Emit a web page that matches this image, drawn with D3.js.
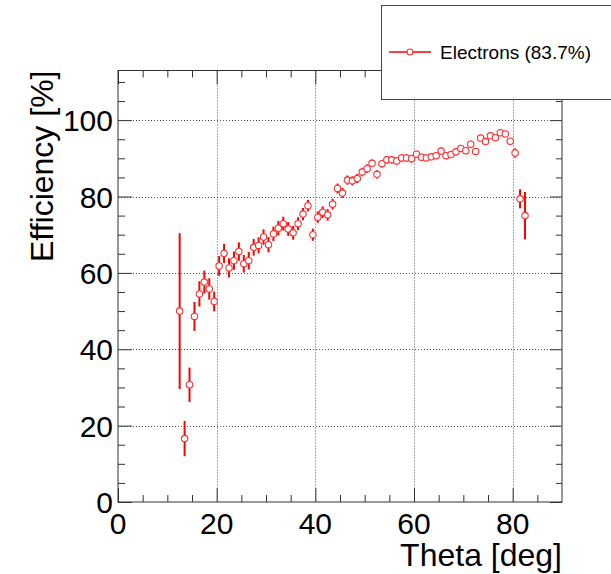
<!DOCTYPE html>
<html>
<head>
<meta charset="utf-8">
<script src="https://cdn.jsdelivr.net/npm/d3@7"></script>
<style>
  body { margin: 0; background: #fff; }
  svg { display: block; }
  text { font-family: "Liberation Sans", Arial, sans-serif; fill: #000; }
</style>
</head>
<body>
<svg id="chart" width="611" height="574"></svg>
<script>
// bin centres (deg)
const theta = [12.5, 13.5, 14.5, 15.5, 16.5, 17.5, 18.5, 19.5, 20.5, 21.5,
  22.5, 23.5, 24.5, 25.5, 26.5, 27.5, 28.5, 29.5, 30.5, 31.5,
  32.5, 33.5, 34.5, 35.5, 36.5, 37.5, 38.5, 39.5, 40.5, 41.5,
  42.5, 43.5, 44.5, 45.5, 46.5, 47.5, 48.5, 49.5, 50.5, 51.5,
  52.5, 53.5, 54.5, 55.5, 56.5, 57.5, 58.5, 59.5, 60.5, 61.5,
  62.5, 63.5, 64.5, 65.5, 66.5, 67.5, 68.5, 69.5, 70.5, 71.5,
  72.5, 73.5, 74.5, 75.5, 76.5, 77.5, 78.5, 79.5, 80.5, 81.5, 82.5];

const efficiency = [50.0, 16.6, 30.7, 48.6, 54.5, 57.6, 55.8, 52.5, 61.8, 65.1,
  61.3, 63.2, 65.6, 62.4, 63.2, 66.7, 67.2, 69.4, 67.4, 70.2,
  71.7, 72.9, 71.5, 70.5, 72.9, 75.4, 77.6, 70.0, 74.6, 75.9,
  75.2, 78.0, 82.1, 80.9, 84.3, 84.1, 84.7, 86.4, 87.3, 88.7,
  85.8, 88.6, 89.6, 89.6, 89.3, 90.1, 90.1, 89.9, 91.1, 90.3,
  90.1, 90.4, 90.7, 91.9, 90.7, 91.0, 91.7, 92.6, 92.0, 93.7,
  91.8, 95.3, 94.4, 95.9, 95.4, 96.7, 96.4, 94.5, 91.4, 79.4, 75.0];

const effError = [20.4, 4.6, 4.5, 3.8, 3.3, 3.0, 2.8, 2.6, 2.6, 2.5,
  2.5, 2.4, 2.4, 2.3, 2.3, 2.2, 2.1, 2.0, 2.0, 1.9,
  1.9, 1.8, 1.8, 1.8, 1.7, 1.6, 1.5, 1.6, 1.5, 1.5,
  1.5, 1.4, 1.3, 1.3, 1.2, 1.2, 1.2, 1.1, 1.1, 1.0,
  1.1, 1.0, 1.0, 1.0, 1.0, 1.0, 1.0, 1.0, 0.9, 0.9,
  0.9, 0.9, 0.9, 0.9, 0.9, 0.9, 0.9, 0.9, 0.9, 0.9,
  0.9, 0.8, 0.8, 0.8, 0.8, 0.8, 0.8, 0.8, 1.2, 2.5, 6.2];

const xMajor = [0, 20, 40, 60, 80];
const xMinor = [5, 10, 15, 25, 30, 35, 45, 50, 55, 65, 70, 75, 85];
const yMajor = [0, 20, 40, 60, 80, 100];
const yMinor = [5, 10, 15, 25, 30, 35, 45, 50, 55, 65, 70, 75, 85, 90, 95, 105, 110];
const legendLabel = "Electrons (83.7%)";

const svg = d3.select("#chart");
const frame = { left: 118, right: 562, top: 70.5, bottom: 502 };

const x = d3.scaleLinear().domain([0, 90]).range([frame.left, frame.right]);
const y = d3.scaleLinear().domain([0, 113]).range([frame.bottom, frame.top]);

// grid
const grid = svg.append("g")
  .attr("stroke", "#555").attr("stroke-width", 1).attr("stroke-dasharray", "1,2");
grid.selectAll(".gx").data(xMajor.slice(1)).enter().append("line")
  .attr("x1", d => Math.round(x(d)) + 0.5).attr("x2", d => Math.round(x(d)) + 0.5)
  .attr("y1", frame.top).attr("y2", frame.bottom);
grid.selectAll(".gy").data(yMajor.slice(1)).enter().append("line")
  .attr("y1", d => Math.round(y(d)) + 0.5).attr("y2", d => Math.round(y(d)) + 0.5)
  .attr("x1", frame.left).attr("x2", frame.right);

// axes: ticks drawn inside the frame, ROOT style
function tickAxis(axisFn, scale, vals, size, translate) {
  const g = svg.append("g").attr("transform", translate)
    .call(axisFn(scale).tickValues(vals).tickSize(-size).tickFormat(""));
  g.select(".domain").remove();
  g.selectAll(".tick line").attr("stroke", "#333").attr("stroke-width", 1);
  return g;
}
tickAxis(d3.axisBottom, x, xMajor, 14, `translate(0,${frame.bottom})`);
tickAxis(d3.axisBottom, x, xMinor, 7, `translate(0,${frame.bottom})`);
tickAxis(d3.axisTop, x, xMajor, 14, `translate(0,${frame.top})`);
tickAxis(d3.axisTop, x, xMinor, 7, `translate(0,${frame.top})`);
tickAxis(d3.axisLeft, y, yMajor, 14, `translate(${frame.left},0)`);
tickAxis(d3.axisLeft, y, yMinor, 7, `translate(${frame.left},0)`);
tickAxis(d3.axisRight, y, yMajor, 12, `translate(${frame.right},0)`);
tickAxis(d3.axisRight, y, yMinor, 6, `translate(${frame.right},0)`);

// frame
svg.append("rect")
  .attr("x", frame.left).attr("y", frame.top)
  .attr("width", frame.right - frame.left).attr("height", frame.bottom - frame.top)
  .attr("fill", "none").attr("stroke", "#333").attr("stroke-width", 1);

// tick labels
svg.selectAll(".xl").data(xMajor).enter().append("text")
  .attr("x", d => x(d)).attr("y", 534)
  .attr("text-anchor", "middle").style("font-size", "30px")
  .text(d => d);
svg.selectAll(".yl").data(yMajor).enter().append("text")
  .attr("x", frame.left - 5).attr("y", d => y(d) + 11)
  .attr("text-anchor", "end").style("font-size", "30px")
  .text(d => d);

// axis titles
svg.append("text")
  .attr("x", frame.right).attr("y", 566)
  .attr("text-anchor", "end").style("font-size", "32px")
  .text("Theta [deg]");
svg.append("text")
  .attr("transform", `translate(53,${frame.top}) rotate(-90)`)
  .attr("text-anchor", "end").style("font-size", "32px")
  .text("Efficiency [%]");

// error bars + markers
const pts = svg.append("g");
pts.selectAll(".err").data(efficiency).enter().append("line")
  .attr("x1", (d, i) => x(theta[i])).attr("x2", (d, i) => x(theta[i]))
  .attr("y1", (d, i) => y(d + effError[i])).attr("y2", (d, i) => y(d - effError[i]))
  .attr("stroke", "#ff0000").attr("stroke-width", 2);
pts.selectAll(".mk").data(efficiency).enter().append("circle")
  .attr("cx", (d, i) => x(theta[i])).attr("cy", d => y(d))
  .attr("r", 3.2)
  .attr("fill", "#fff").attr("stroke", "#ff3030").attr("stroke-width", 1.1);

// legend
const leg = svg.append("g");
leg.append("rect")
  .attr("x", 381.5).attr("y", 5.5).attr("width", 240).attr("height", 94)
  .attr("fill", "#fff").attr("stroke", "#444").attr("stroke-width", 1);
leg.append("line")
  .attr("x1", 389).attr("x2", 431).attr("y1", 52).attr("y2", 52)
  .attr("stroke", "#ff0000").attr("stroke-width", 1.5);
leg.append("circle")
  .attr("cx", 410).attr("cy", 52).attr("r", 3)
  .attr("fill", "#fff").attr("stroke", "#ff3030").attr("stroke-width", 1.1);
leg.append("text")
  .attr("x", 440).attr("y", 58.5).style("font-size", "19px")
  .text(legendLabel);
</script>
</body>
</html>
